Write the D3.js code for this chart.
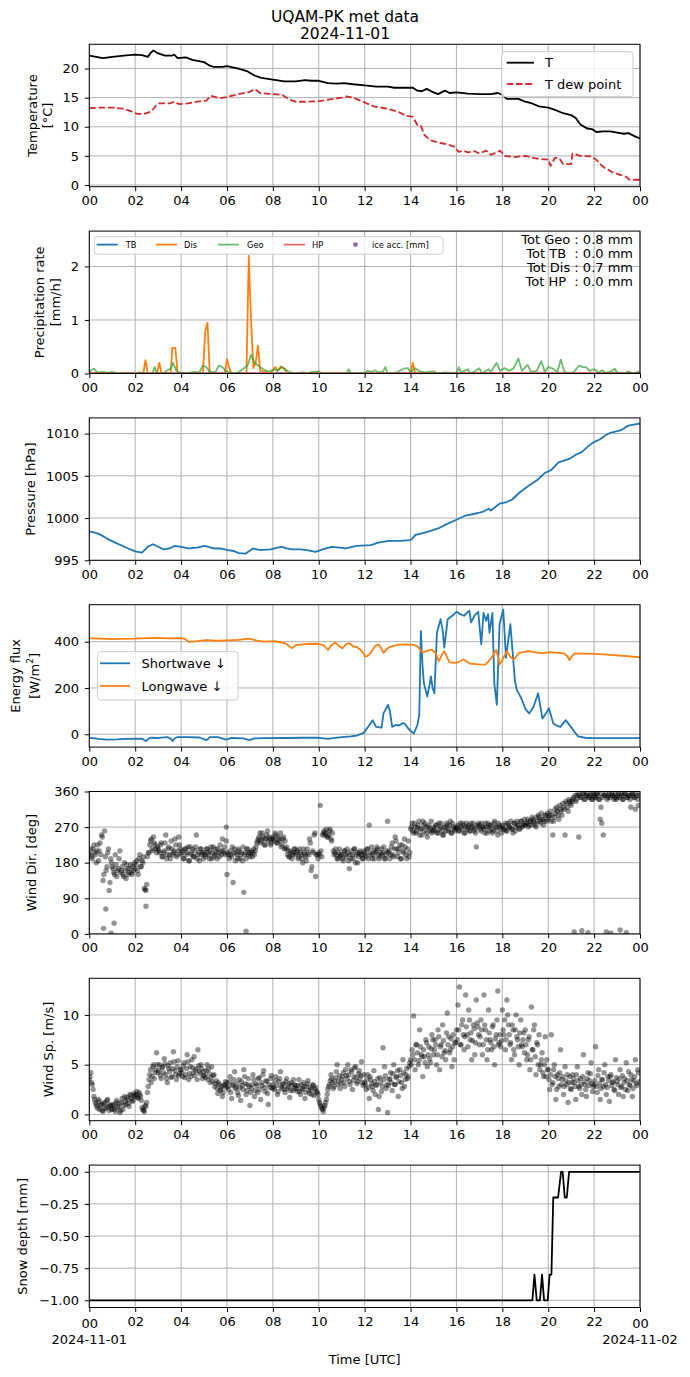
<!DOCTYPE html>
<html>
<head>
<meta charset="utf-8">
<script src="https://cdn.jsdelivr.net/npm/d3@7"></script>
<style>
    body { margin: 0; background: #fff; }
    text { font-family: "DejaVu Sans", sans-serif; }
</style>
</head>
<body>
<script>
// ---- data (hours since 2024-11-01 00 UTC) ----
const temperature = [[0,22.2],[0.3,22.0],[0.6,21.8],[1.0,22.0],[1.5,22.2],[2.0,22.4],[2.3,22.3],[2.55,22.0],[2.7,22.8],[2.8,23.1],[3.0,22.6],[3.3,22.2],[3.6,22.2],[3.7,22.4],[3.85,21.8],[4.2,21.9],[4.5,21.5],[5.0,21.1],[5.2,20.6],[5.4,20.3],[5.8,20.3],[6.0,20.4],[6.5,20.0],[6.9,19.5],[7.2,18.8],[7.5,18.4],[8.0,18.1],[8.5,17.8],[9.0,17.8],[9.4,18.0],[9.7,17.9],[10.0,17.9],[10.4,17.5],[10.8,17.4],[11.1,17.5],[11.5,17.3],[12.0,17.1],[12.5,16.9],[13.0,16.9],[13.3,16.7],[13.7,16.7],[14.1,16.7],[14.3,16.2],[14.5,16.1],[14.7,16.5],[15.0,15.9],[15.2,15.6],[15.5,16.2],[15.7,15.8],[16.0,15.9],[16.5,15.7],[17.0,15.6],[17.5,15.6],[17.8,15.8],[18.0,15.5],[18.2,14.8],[18.7,14.8],[19.0,14.3],[19.3,14.0],[19.6,13.5],[20.0,13.3],[20.3,12.9],[20.6,12.4],[21.0,12.0],[21.2,11.5],[21.4,10.4],[21.7,9.7],[21.9,9.6],[22.1,9.1],[22.4,9.2],[22.7,9.2],[23.0,9.0],[23.3,8.8],[23.5,8.9],[23.8,8.3],[24,8.0]];
const dewPoint = [[0,13.2],[0.5,13.3],[1.0,13.3],[1.5,13.1],[1.8,12.7],[2.1,12.2],[2.4,12.2],[2.7,12.6],[2.9,13.6],[3.0,14.0],[3.5,14.0],[3.7,14.3],[3.9,13.9],[4.3,14.0],[4.7,14.3],[5.1,14.5],[5.3,15.3],[5.7,14.9],[6.0,15.1],[6.5,15.6],[7.0,16.0],[7.2,16.5],[7.45,15.8],[8.0,15.6],[8.4,15.5],[8.7,14.7],[9.0,14.3],[9.5,14.3],[10.0,14.4],[10.5,14.7],[11.0,15.0],[11.2,15.2],[11.5,15.0],[11.8,14.5],[12.4,13.5],[13.0,13.1],[13.5,12.5],[13.8,11.9],[14.1,11.7],[14.3,10.3],[14.45,10.2],[14.6,8.6],[14.85,7.7],[15.2,7.3],[15.6,7.0],[15.9,6.6],[16.1,5.7],[16.3,5.9],[16.5,5.6],[16.8,5.8],[17.0,5.4],[17.3,5.9],[17.5,5.2],[17.8,5.7],[17.9,5.9],[18.1,5.0],[18.5,4.8],[19.0,5.0],[19.4,4.6],[19.8,4.4],[20.0,4.4],[20.1,3.3],[20.3,4.7],[20.5,4.5],[20.65,3.6],[21.0,3.6],[21.06,5.4],[21.4,5.0],[21.9,4.9],[22.1,4.3],[22.4,3.1],[22.8,2.2],[23.1,1.8],[23.4,1.4],[23.55,0.9],[24,0.9]];

const precipTB = [[0,0],[24,0]];
const precipDis = [[0,0],[2.35,0],[2.45,0.25],[2.55,0],[2.95,0],[3.05,0.2],[3.15,0],[3.55,0],[3.62,0.48],[3.75,0.48],[3.85,0],[4.95,0],[5.05,0.78],[5.15,0.95],[5.25,0],[5.9,0],[6.0,0.27],[6.1,0.1],[6.2,0],[6.85,0],[6.95,2.2],[7.05,1.0],[7.15,0.1],[7.25,0.2],[7.35,0.52],[7.45,0.05],[7.9,0],[8.1,0.12],[8.2,0.05],[8.35,0.13],[8.5,0.09],[8.6,0],[14.0,0],[14.1,0.2],[14.2,0],[24,0]];
const precipGeo = [[0,0.02],[0.1,0.07],[0.2,0.09],[0.35,0.02],[0.6,0.03],[0.8,0.01],[1.0,0.03],[1.3,0],[2.0,0],[2.2,0.02],[2.4,0],[2.75,0],[2.85,0.12],[2.95,0],[3.2,0],[3.55,0.1],[3.65,0.2],[3.8,0.05],[3.9,0.02],[4.2,0],[4.6,0.03],[4.8,0.02],[4.95,0.15],[5.1,0.12],[5.25,0.03],[5.5,0.03],[5.65,0.15],[5.8,0.12],[5.95,0.05],[6.1,0.02],[6.4,0],[6.6,0.05],[6.9,0.15],[7.05,0.35],[7.2,0.2],[7.35,0.15],[7.5,0.1],[7.8,0.03],[8.05,0.08],[8.2,0.05],[8.4,0.12],[8.55,0.08],[8.7,0.03],[9.0,0],[9.3,0.02],[9.5,0],[9.7,0.03],[10.0,0.04],[10.1,0.01],[10.3,0],[11.2,0],[11.3,0.08],[11.4,0],[12.0,0.01],[12.1,0.05],[12.3,0.03],[12.45,0.06],[12.6,0.02],[12.8,0.04],[12.9,0.12],[13.0,0],[13.4,0.02],[13.7,0.09],[13.9,0.1],[14.0,0.02],[14.2,0.1],[14.35,0.05],[14.6,0.02],[15.0,0.04],[15.2,0],[15.5,0.02],[16.0,0],[16.1,0.12],[16.2,0.02],[16.5,0.08],[16.6,0],[16.8,0.04],[17.0,0.1],[17.1,0],[17.4,0.08],[17.5,0.03],[17.75,0.2],[17.9,0.05],[18.1,0.1],[18.3,0.05],[18.5,0.1],[18.7,0.28],[18.85,0.05],[19.1,0.16],[19.25,0.03],[19.5,0.05],[19.7,0.23],[19.85,0.03],[20.0,0.12],[20.2,0.09],[20.4,0.03],[20.55,0.26],[20.7,0.04],[20.9,0],[21.1,0.02],[21.35,0.15],[21.5,0.12],[21.65,0.12],[21.8,0.05],[22.0,0.08],[22.2,0.02],[22.35,0.06],[22.5,0.01],[22.8,0.05],[22.9,0.09],[23.0,0.02],[23.3,0],[23.5,0.04],[23.7,0],[23.9,0.03],[24,0.02]];
const precipHP = [[0,0],[24,0]];
const precipTotals = ["Tot Geo : 0.8 mm", "Tot TB  : 0.0 mm", "Tot Dis : 0.7 mm", "Tot HP  : 0.0 mm"];

const pressure = [[0,998.4],[0.2,998.3],[0.44,998.1],[0.75,997.6],[1.2,997.0],[1.7,996.4],[2.0,996.05],[2.3,995.9],[2.54,996.6],[2.77,996.9],[3.0,996.6],[3.24,996.3],[3.5,996.4],[3.7,996.7],[4.0,996.6],[4.33,996.4],[4.7,996.5],[5.03,996.7],[5.42,996.4],[5.7,996.4],[6.04,996.2],[6.3,996.1],[6.51,995.85],[6.82,995.8],[7.13,996.4],[7.45,996.2],[7.9,996.3],[8.2,996.5],[8.38,996.6],[8.6,996.4],[8.85,996.3],[9.2,996.3],[9.47,996.2],[9.86,996.0],[10.17,996.3],[10.56,996.6],[10.9,996.5],[11.18,996.4],[11.65,996.7],[12.27,996.8],[12.59,997.1],[13.05,997.3],[13.52,997.3],[13.98,997.4],[14.05,997.5],[14.22,998.0],[14.5,998.2],[14.77,998.4],[15.23,998.8],[15.55,999.25],[16.0,999.8],[16.4,1000.3],[16.95,1000.6],[17.2,1000.8],[17.41,1001.1],[17.5,1000.9],[17.88,1001.7],[18.2,1001.9],[18.43,1002.2],[18.74,1003.0],[19.13,1003.8],[19.52,1004.5],[19.83,1005.3],[20.14,1005.7],[20.45,1006.6],[20.92,1007.0],[21.2,1007.5],[21.46,1007.8],[21.7,1008.4],[21.93,1008.9],[22.24,1009.3],[22.5,1009.8],[22.71,1010.1],[23.18,1010.4],[23.49,1010.95],[24,1011.2]];

const shortwave = [[0,-15],[0.4,-20],[0.75,-23],[1.2,-22],[1.6,-20],[2.3,-19],[2.46,-29],[2.6,-18],[2.7,-15],[3.0,-16],[3.4,-12],[3.55,-20],[3.63,-29],[3.75,-15],[3.86,-12],[4.3,-12],[4.8,-14],[5.11,-25],[5.26,-12],[5.6,-12],[5.97,-23],[6.2,-16],[6.7,-18],[6.98,-25],[7.2,-18],[7.6,-17],[8.5,-16],[9.3,-15],[9.94,-15],[10.2,-18],[10.4,-20],[10.7,-16],[11.03,-12],[11.4,-9],[11.65,-6],[11.96,6],[12.2,39],[12.35,61],[12.5,32],[12.74,29],[12.82,90],[13.02,127],[13.1,100],[13.2,32],[13.35,40],[13.52,39],[13.65,48],[13.75,46],[13.9,25],[14.14,3],[14.3,40],[14.38,83],[14.45,447],[14.52,300],[14.58,221],[14.73,163],[14.82,210],[14.89,250],[14.96,200],[15.04,177],[15.15,439],[15.31,497],[15.4,450],[15.47,374],[15.55,440],[15.62,497],[15.86,515],[16.0,529],[16.15,520],[16.33,512],[16.56,534],[16.64,483],[16.8,515],[16.95,529],[17.08,388],[17.18,524],[17.29,490],[17.38,519],[17.44,439],[17.57,524],[17.65,221],[17.76,127],[17.88,476],[18.04,538],[18.16,330],[18.35,476],[18.47,330],[18.55,230],[18.63,192],[18.75,170],[18.86,148],[19.0,110],[19.17,90],[19.36,119],[19.56,177],[19.75,68],[19.9,90],[20.03,112],[20.22,47],[20.4,36],[20.53,32],[20.76,61],[20.99,32],[21.15,10],[21.3,-9],[21.6,-15],[21.93,-17],[23,-17],[24,-17]];
const longwave = [[0,414],[0.5,413],[1.0,411],[1.37,412],[2.0,413],[2.5,415],[2.93,416],[3.5,414],[4.02,415],[4.2,410],[4.33,399],[4.7,402],[5.11,407],[5.5,404],[6.04,406],[6.5,408],[6.98,413],[7.3,405],[7.6,400],[8.07,402],[8.3,398],[8.54,393],[8.82,372],[9.0,385],[9.16,387],[9.5,390],[9.94,391],[10.2,385],[10.4,364],[10.55,385],[10.72,396],[10.9,380],[11.03,371],[11.2,390],[11.34,393],[11.5,380],[11.65,377],[11.85,362],[12.04,335],[12.15,340],[12.27,352],[12.45,380],[12.59,388],[12.7,375],[12.82,352],[13.0,372],[13.2,381],[13.5,387],[13.83,388],[14.1,386],[14.3,381],[14.53,352],[14.7,360],[14.92,366],[15.1,350],[15.23,316],[15.35,340],[15.47,359],[15.6,330],[15.7,311],[16.0,308],[16.3,323],[16.6,305],[17.0,302],[17.26,301],[17.45,320],[17.57,337],[17.73,364],[17.8,340],[17.88,301],[18.05,330],[18.2,359],[18.35,335],[18.5,323],[18.74,352],[19.13,359],[19.5,353],[19.75,349],[20.06,355],[20.4,352],[20.69,349],[20.85,335],[20.92,320],[21.05,340],[21.15,349],[21.5,348],[22.0,347],[22.4,345],[23.0,341],[23.5,337],[24,332]];

// wind direction, one row per hour; set A and set B are interleaved samples (2-min spacing overall)
const windDirRowsA = [
    [205,215,190,225,200,210,185,230,250,135,260,160,205,110,190],
    [170,155,200,145,165,210,160,150,180,140,165,155,175,150,160],
    [165,185,150,200,170,180,115,110,195,205,235,215,245,225,205],
    [215,205,230,195,210,250,200,220,190,215,205,240,195,210,225],
    [200,210,190,215,205,185,220,200,195,210,250,200,185,215,205],
    [205,195,215,200,210,190,220,200,205,215,195,210,240,205,200],
    [150,200,210,195,130,215,205,190,210,200,185,105,205,215,200],
    [195,210,205,200,220,235,245,230,255,240,225,250,235,240,230],
    [245,235,250,230,240,255,225,245,235,220,210,195,205,200,215],
    [200,210,195,205,190,215,200,185,205,240,160,210,250,145,200],
    [205,325,195,255,250,265,245,260,240,255,200,215,190,205,195],
    [200,185,210,195,205,165,190,200,215,180,205,195,210,200,190],
    [205,195,215,275,200,190,210,205,220,200,195,215,205,190,200],
    [285,210,200,230,195,245,215,205,225,190,210,240,200,215,195],
    [265,280,255,270,260,275,250,265,285,260,270,245,275,265,255],
    [270,260,275,255,265,280,250,270,260,275,265,285,255,270,260],
    [265,275,260,270,280,255,270,265,275,260,270,280,265,220,270],
    [275,260,270,265,280,255,270,275,265,260,285,270,250,275,265],
    [270,265,280,260,275,270,265,255,280,270,275,265,285,270,275],
    [275,280,270,285,275,290,280,270,285,295,280,290,275,300,285],
    [290,300,285,250,295,305,310,290,315,300,320,250,330,310,335],
    [325,340,5,335,350,245,345,8,355,340,350,3,345,355,340],
    [350,345,355,340,290,280,250,350,5,345,355,2,350,340,355],
    [345,355,10,350,340,355,3,345,350,320,355,345,315,350,325]
];
const windDirRowsB = [
    [200,195,215,205,180,225,210,200,245,150,195,170,215,130,180],
    [165,150,175,160,190,155,170,145,160,175,150,165,155,170,180],
    [175,160,190,170,185,195,112,125,205,225,240,210,230,215,220],
    [210,225,195,205,230,190,215,200,235,200,210,225,200,245,215],
    [205,190,215,200,220,185,205,215,195,220,190,205,215,200,190],
    [200,215,205,190,220,205,195,215,190,205,225,200,210,220,235],
    [205,190,200,220,205,185,200,215,190,205,220,200,190,215,205],
    [205,195,215,210,230,240,255,235,245,225,240,260,245,225,240],
    [240,255,230,245,235,220,240,215,215,200,195,210,190,205,215],
    [205,190,215,200,180,205,195,215,200,230,170,205,255,200,190],
    [200,210,250,260,255,245,250,265,235,210,205,200,190,215,200],
    [190,210,200,215,185,200,210,190,215,200,180,205,200,190,210],
    [200,215,190,205,220,200,190,210,215,190,205,200,220,190,210],
    [205,190,220,200,215,235,195,215,190,225,205,220,190,235,205],
    [270,260,280,255,270,285,265,250,275,280,255,270,260,285,260],
    [265,275,255,280,270,260,250,270,280,260,275,255,280,265,270],
    [270,260,280,265,275,255,280,270,260,280,270,260,255,275,280],
    [265,280,270,255,270,280,260,275,255,280,270,260,280,270,255],
    [275,265,260,280,270,285,265,280,260,285,275,265,285,275,290],
    [280,290,275,285,295,285,275,295,300,285,305,290,285,300,305],
    [295,310,300,285,315,320,300,325,310,330,315,335,320,340,330],
    [335,345,350,340,355,350,345,355,340,350,355,345,350,340,355],
    [345,355,350,340,355,345,350,355,340,350,345,355,350,345,340],
    [350,345,355,340,350,355,345,350,340,355,350,345,355,340,350]
];
const windDirExtra = [[0.72,63],[0.62,14],[1.08,27],[0.95,2],[2.47,70],[5.97,270],[6.83,7],[22.3,320]];

// wind speed, one row per hour, two interleaved sample sets
const windSpRowsA = [
    [3.5,4.2,3.0,1.8,1.2,0.8,1.5,0.5,1.0,0.3,1.2,0.7,1.5,0.4,0.9],
    [0.6,1.0,0.3,1.4,0.8,0.2,1.2,0.5,1.8,1.0,1.5,0.8,1.9,1.3,2.1],
    [1.8,2.3,1.6,2.0,1.4,0.5,0.3,0.8,2.2,3.5,4.5,3.8,5.0,4.2,6.2],
    [4.2,5.0,3.6,4.8,5.6,4.0,3.2,4.6,5.2,3.8,6.3,4.4,3.5,5.4,4.1],
    [4.5,3.8,5.2,4.0,6.0,3.5,4.8,5.5,4.2,3.9,4.6,6.5,4.3,5.0,3.6],
    [4.3,3.7,5.0,4.6,3.2,4.8,3.9,2.8,3.4,2.1,3.0,2.5,1.8,2.9,3.3],
    [3.2,2.5,3.8,1.6,3.0,4.3,2.7,2.2,3.5,1.4,2.9,4.5,3.1,2.4,3.6],
    [0.9,2.6,4.0,1.8,3.1,2.2,3.7,1.5,2.9,4.4,2.3,3.3,1.0,2.7,3.9],
    [3.0,2.5,3.8,2.0,3.3,4.3,2.6,3.1,2.2,3.6,2.8,1.7,3.2,2.4,3.0],
    [2.9,2.3,3.5,2.0,2.6,3.2,1.6,2.8,3.4,2.1,2.5,3.0,1.9,2.7,2.2],
    [1.5,1.0,0.6,0.3,0.9,1.5,2.5,3.0,4.0,3.2,2.8,3.7,5.0,3.4,2.6],
    [3.5,4.2,2.8,3.9,5.0,3.3,4.5,2.5,3.8,4.8,3.1,4.1,3.6,5.3,2.9],
    [3.2,2.5,4.0,1.6,3.5,2.8,4.4,2.0,3.0,0.5,3.7,2.3,6.7,4.8,2.6],
    [0.2,3.5,4.2,2.4,5.0,3.0,3.8,1.8,4.5,3.2,5.5,2.8,4.0,3.6,4.8],
    [5.5,6.5,9.9,4.5,7.0,5.0,8.5,6.0,3.8,5.8,7.5,4.8,6.8,5.2,8.0],
    [6.0,7.5,5.0,8.5,4.5,7.0,9.0,6.2,5.5,10.2,7.8,6.5,4.8,8.0,7.2],
    [8.5,11.0,12.8,7.0,9.5,6.5,12.0,8.0,10.5,7.5,5.5,9.0,6.0,11.5,8.8],
    [7.0,9.5,6.0,12.0,8.5,5.5,10.5,7.5,6.5,9.0,5.0,8.0,12.4,7.2,6.8],
    [10.5,8.0,6.5,11.5,9.0,7.0,5.5,8.5,6.0,10.0,7.5,5.0,9.5,6.8,8.2],
    [8.5,5.5,7.5,4.5,10.8,6.5,9.0,4.0,7.0,8.0,5.0,6.2,3.8,7.8,5.5],
    [4.5,2.5,8.0,3.2,5.0,1.5,4.0,2.8,6.5,3.5,2.0,4.8,3.0,1.2,3.8],
    [2.5,4.0,3.2,1.5,4.8,2.8,3.6,2.0,6.0,3.0,1.8,4.2,3.4,5.2,2.3],
    [3.0,6.8,2.2,4.5,1.5,3.5,2.8,5.0,2.0,3.8,1.3,4.0,3.2,2.5,5.5],
    [3.3,2.0,4.5,2.8,1.8,3.6,5.2,2.4,3.0,4.0,1.8,3.4,5.5,2.9,4.2]
];
const windSpRowsB = [
    [3.8,3.2,2.5,1.5,1.0,0.6,1.3,0.9,0.4,1.1,0.6,1.4,0.8,1.0,0.5],
    [0.9,0.5,1.2,0.7,1.1,0.4,1.6,0.9,1.3,1.7,1.1,2.0,1.6,1.4,1.9],
    [2.0,1.7,2.2,1.8,0.7,0.4,0.9,1.2,2.8,4.0,3.2,4.8,3.6,4.5,5.0],
    [4.4,3.9,4.7,4.2,5.1,3.6,4.9,4.3,3.7,4.6,5.3,4.0,4.8,3.9,4.5],
    [4.2,4.9,3.7,4.6,5.3,4.1,3.8,4.7,5.8,4.4,3.5,4.9,4.1,4.6,3.9],
    [3.9,4.4,3.5,4.1,3.7,3.3,4.0,3.1,2.6,3.2,2.4,2.8,2.2,3.0,2.7],
    [2.8,3.3,2.2,2.9,3.5,2.6,3.1,1.9,2.7,3.3,2.5,3.8,2.0,3.0,2.8],
    [2.2,3.0,3.5,2.4,2.9,3.6,2.5,3.2,4.0,2.7,3.4,2.1,3.0,3.6,2.6],
    [2.7,3.4,2.9,2.3,3.6,2.8,3.0,2.5,3.3,2.6,3.1,2.4,2.9,3.5,2.6],
    [2.6,2.9,2.3,3.0,2.5,2.8,2.2,3.1,2.4,2.7,2.0,2.9,2.5,2.3,2.0],
    [1.2,0.8,0.5,0.7,1.2,2.0,2.8,3.4,3.6,2.6,3.3,4.3,3.0,3.9,3.1],
    [3.8,3.2,4.5,3.6,4.0,3.0,4.3,3.4,4.7,3.7,3.3,4.4,3.9,3.2,4.0],
    [3.0,3.5,2.7,3.8,3.1,2.4,3.3,2.9,3.6,1.8,3.2,2.8,3.5,3.9,3.0],
    [2.9,3.6,3.2,4.1,3.0,3.7,4.4,3.3,3.9,2.6,4.2,3.5,4.6,3.8,5.2],
    [5.0,6.0,5.5,7.0,6.2,5.4,6.8,5.8,6.5,5.2,7.2,6.0,5.6,6.6,7.5],
    [6.5,7.0,6.0,7.8,6.8,5.8,7.4,6.4,8.2,7.0,6.2,7.6,6.8,5.5,7.2],
    [7.5,8.5,7.0,9.0,8.0,7.8,8.8,6.8,9.5,8.2,7.4,8.6,7.2,9.2,8.0],
    [7.8,8.5,7.0,9.0,7.5,6.5,8.2,7.2,8.8,6.8,7.6,9.5,7.0,8.0,7.4],
    [8.5,9.5,7.5,10.0,8.0,7.2,9.0,6.5,8.5,7.8,6.8,8.2,7.0,7.5,6.2],
    [7.0,6.0,7.8,5.5,6.5,8.5,5.8,7.2,5.0,4.5,5.5,4.2,5.0,3.8,4.5],
    [3.5,4.0,3.0,4.5,3.8,2.5,3.6,4.2,3.0,3.8,2.8,3.4,4.0,3.2,2.6],
    [3.2,3.6,2.8,4.0,3.4,2.6,3.0,3.8,3.3,2.5,3.6,2.9,4.1,3.1,2.8],
    [3.4,2.8,3.9,3.1,2.6,3.5,4.2,3.0,2.7,3.4,3.8,2.9,3.3,2.4,3.7],
    [3.0,3.6,2.7,3.9,3.2,2.5,3.4,4.3,2.9,3.5,2.6,3.8,3.1,4.5,3.3]
];

const snowDepth = [[0,-1],[19.31,-1],[19.4,-0.8],[19.5,-1],[19.64,-1],[19.73,-0.8],[19.82,-1],[19.98,-1],[20.06,-0.8],[20.14,-0.8],[20.22,-0.2],[20.43,-0.2],[20.56,0],[20.63,0],[20.72,-0.2],[20.81,-0.2],[20.91,0],[24,0]];

const xTickHours = d3.range(0, 25, 2);

// ---- layout ----
const W = 690, H = 1377;
const FS = 13;
const left = 89.3, right = 640;
const panelH = 142.4;
const panelTop = i => 44.3 + i * 186.8;

const svg = d3.select("body").append("svg").attr("width", W).attr("height", H);
const x = d3.scaleLinear().domain([0, 24]).range([left, right]);

function makePanel(i, domain, ticks, fmt, labelLines, labelXs) {
    let top = panelTop(i), bottom = top + panelH;
    let y = d3.scaleLinear().domain(domain).range([bottom, top]);
    let g = svg.append("g");

    let grid = g.append("g").attr("stroke", "#b0b0b0").attr("stroke-width", 1);
    grid.selectAll("line.gx").data(xTickHours).join("line").classed("gx", true)
        .attr("x1", d => x(d)).attr("x2", d => x(d)).attr("y1", top).attr("y2", bottom);
    grid.selectAll("line.gy").data(ticks).join("line").classed("gy", true)
        .attr("x1", left).attr("x2", right).attr("y1", d => y(d)).attr("y2", d => y(d));

    svg.append("clipPath").attr("id", "clip" + i)
        .append("rect").attr("x", left).attr("y", top).attr("width", right - left).attr("height", panelH);
    let plot = g.append("g").attr("clip-path", `url(#clip${i})`);

    let axes = g.append("g");
    axes.append("g").attr("class", "xaxis").attr("transform", `translate(0,${bottom})`)
        .call(d3.axisBottom(x).tickValues(xTickHours).tickSize(4.5).tickPadding(4.8)
            .tickFormat(d => d3.format("02d")(d % 24)))
        .call(a => a.select(".domain").remove())
        .attr("font-size", FS).attr("font-family", "DejaVu Sans");
    axes.append("g").attr("transform", `translate(${left},0)`)
        .call(d3.axisLeft(y).tickValues(ticks).tickSize(4.5).tickPadding(5.8).tickFormat(fmt))
        .call(a => a.select(".domain").remove())
        .attr("font-size", FS).attr("font-family", "DejaVu Sans");
    axes.append("rect").attr("x", left).attr("y", top).attr("width", right - left).attr("height", panelH)
        .attr("fill", "none").attr("stroke", "#000").attr("stroke-width", 1);

    let cy = (top + bottom) / 2;
    labelLines.forEach((t, k) => {
        let txt = g.append("text")
            .attr("transform", `translate(${labelXs[k]},${cy}) rotate(-90)`)
            .attr("text-anchor", "middle").attr("dominant-baseline", "central")
            .attr("font-size", FS);
        if (Array.isArray(t)) {
            txt.append("tspan").text(t[0]);
            txt.append("tspan").attr("dy", -4).attr("font-size", 9).text(t[1]);
            txt.append("tspan").attr("dy", 4).text(t[2]);
        } else {
            txt.text(t);
        }
    });
    return {y, plot, axes, top, bottom};
}

function drawLine(p, data, color, width, opacity, dash) {
    let line = d3.line().x(d => x(d[0])).y(d => p.y(d[1]));
    let path = p.plot.append("path").datum(data).attr("d", line)
        .attr("fill", "none").attr("stroke", color).attr("stroke-width", width)
        .attr("stroke-opacity", opacity).attr("stroke-linejoin", "round");
    if (dash) path.attr("stroke-dasharray", dash);
}

function drawScatter(p, data) {
    p.plot.selectAll("circle").data(data).join("circle")
        .attr("cx", d => x(d[0])).attr("cy", d => p.y(d[1])).attr("r", 2.7)
        .attr("fill", "#000").attr("fill-opacity", 0.42);
}

// hour rows -> [hour, value]; set B sits half a step after set A
function rowsToPoints(rowsA, rowsB) {
    let a = rowsA.flatMap((row, h) => row.map((v, k) => [h + k / row.length, v]));
    let b = rowsB.flatMap((row, h) => row.map((v, k) => [h + (k + 0.5) / row.length, v]));
    return a.concat(b);
}

function drawLegend(layer, box, items, fontSize) {
    layer.append("rect").attr("x", box.x).attr("y", box.y).attr("width", box.w).attr("height", box.h)
        .attr("rx", 3).attr("fill", "#fff").attr("fill-opacity", 0.8)
        .attr("stroke", "#cccccc").attr("stroke-width", 1);
    items.forEach(it => {
        if (it.dot) {
            layer.append("circle").attr("cx", (it.x0 + it.x1) / 2).attr("cy", it.y).attr("r", 2.4)
                .attr("fill", it.color);
        } else {
            layer.append("line").attr("x1", it.x0).attr("x2", it.x1).attr("y1", it.y).attr("y2", it.y)
                .attr("stroke", it.color).attr("stroke-width", it.width || 1.8)
                .attr("stroke-opacity", it.opacity || 1).attr("stroke-dasharray", it.dash || null);
        }
        layer.append("text").attr("x", it.tx).attr("y", it.y).attr("dominant-baseline", "central")
            .attr("font-size", fontSize).text(it.label);
    });
}

// ---- title ----
svg.append("text").attr("x", 345).attr("y", 21.5).attr("text-anchor", "middle").attr("font-size", 15.5).text("UQAM-PK met data");
svg.append("text").attr("x", 345).attr("y", 38.5).attr("text-anchor", "middle").attr("font-size", 15.5).text("2024-11-01");

// ---- 1: temperature ----
let p1 = makePanel(0, [-0.29, 24.16], [0, 5, 10, 15, 20], d3.format("d"), ["Temperature", "[°C]"], [32, 47]);
drawLine(p1, temperature, "#000", 1.8, 1);
drawLine(p1, dewPoint, "#d62728", 1.8, 1, "6.5,2.8");
drawLegend(p1.axes, {x: 501.7, y: 51.7, w: 131.3, h: 45}, [
    {x0: 506.7, x1: 534, y: 62.7, tx: 545, color: "#000", label: "T"},
    {x0: 506.7, x1: 534, y: 84, tx: 545, color: "#d62728", dash: "6.5,2.8", label: "T dew point"}
], FS);

// ---- 2: precipitation ----
let p2 = makePanel(1, [0, 2.66], [0, 1, 2], d3.format("d"), ["Precipitation rate", "[mm/h]"], [39, 55]);
drawLine(p2, precipTB, "#1f77b4", 1.8, 1);
drawLine(p2, precipDis, "#ff7f0e", 1.8, 1);
drawLine(p2, precipGeo, "#2ca02c", 1.8, 0.7);
drawLine(p2, precipHP, "#d62728", 1.8, 0.7);
drawLegend(p2.axes, {x: 94.3, y: 236.7, w: 348.7, h: 17.5}, [
    {x0: 96.7, x1: 117.7, y: 244.6, tx: 125.7, color: "#1f77b4", label: "TB"},
    {x0: 156, x1: 177, y: 244.6, tx: 184, color: "#ff7f0e", label: "Dis"},
    {x0: 218, x1: 239, y: 244.6, tx: 247, color: "#2ca02c", opacity: 0.7, label: "Geo"},
    {x0: 284, x1: 305, y: 244.6, tx: 312, color: "#d62728", opacity: 0.7, label: "HP"},
    {x0: 350, x1: 361, y: 244.6, tx: 372, color: "#9467bd", dot: true, label: "ice acc. [mm]"}
], 8.3);
p2.axes.selectAll("text.tot").data(precipTotals).join("text").classed("tot", true)
    .attr("x", 633).attr("y", (d, k) => 243.5 + k * 14).attr("text-anchor", "end")
    .attr("font-size", FS).style("white-space", "pre").text(d => d);

// ---- 3: pressure ----
let p3 = makePanel(2, [995, 1011.86], [995, 1000, 1005, 1010], d3.format("d"), ["Pressure [hPa]"], [30]);
drawLine(p3, pressure, "#1f77b4", 1.8, 1);

// ---- 4: energy flux ----
let p4 = makePanel(3, [-55.4, 559.7], [0, 200, 400], d3.format("d"), ["Energy flux", ["[W/m", "2", "]"]], [15, 34]);
drawLine(p4, shortwave, "#1f77b4", 1.8, 1);
drawLine(p4, longwave, "#ff7f0e", 1.8, 1);
drawLegend(p4.axes, {x: 97.5, y: 651.7, w: 140.5, h: 48.3}, [
    {x0: 100, x1: 130, y: 663.3, tx: 141.6, color: "#1f77b4", label: "Shortwave \u2193"},
    {x0: 100, x1: 130, y: 686, tx: 141.6, color: "#ff7f0e", label: "Longwave \u2193"}
], FS);

// ---- 5: wind direction ----
let p5 = makePanel(4, [0, 360], [0, 90, 180, 270, 360], d3.format("d"), ["Wind Dir. [deg]"], [31]);
drawScatter(p5, rowsToPoints(windDirRowsA, windDirRowsB).concat(windDirExtra));

// ---- 6: wind speed ----
let p6 = makePanel(5, [-0.63, 13.68], [0, 5, 10], d3.format("d"), ["Wind Sp. [m/s]"], [48]);
drawScatter(p6, rowsToPoints(windSpRowsA, windSpRowsB));

// ---- 7: snow depth ----
let p7 = makePanel(6, [-1.056, 0.052], [0, -0.25, -0.5, -0.75, -1], d3.format(".2f"), ["Snow depth [mm]"], [22]);
drawLine(p7, snowDepth, "#000", 1.8, 1);
p7.axes.select(".xaxis").selectAll(".tick text").filter(d => d === 0 || d === 24).attr("dy", "0.83em");
[[0, "2024-11-01"], [24, "2024-11-02"]].forEach(([h, t]) => {
    p7.axes.append("text").attr("x", x(h)).attr("y", p7.bottom + 36).attr("text-anchor", "middle")
        .attr("font-size", FS).text(t);
});
svg.append("text").attr("x", (left + right) / 2).attr("y", 1363.5).attr("text-anchor", "middle")
    .attr("font-size", FS).text("Time [UTC]");
</script>
</body>
</html>
